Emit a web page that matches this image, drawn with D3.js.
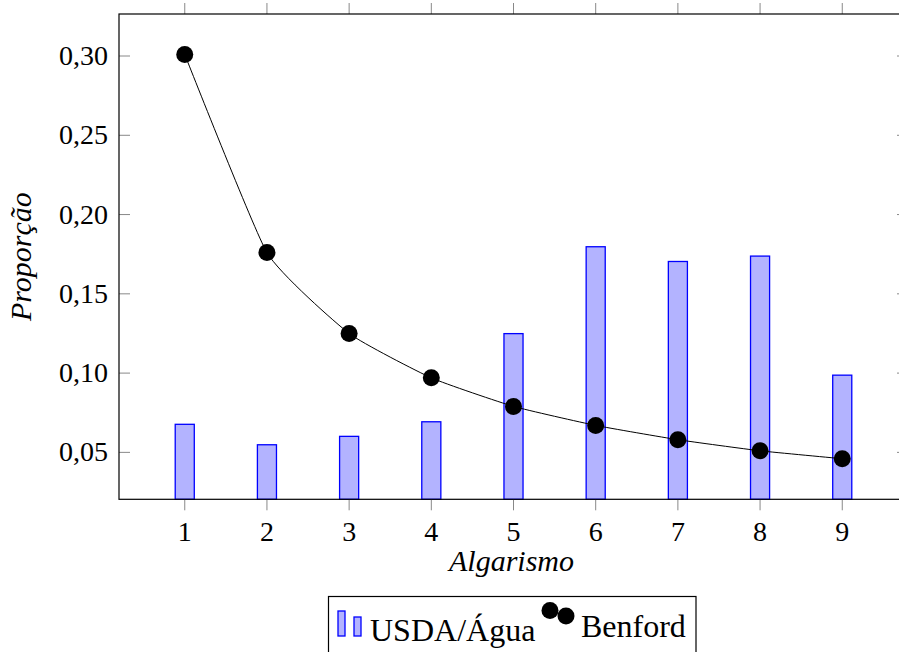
<!DOCTYPE html>
<html>
<head>
<meta charset="utf-8">
<script src="https://cdn.jsdelivr.net/npm/d3@7"></script>
<style>
  body { margin: 0; background: #fff; }
</style>
</head>
<body>
<script>
// data
var digits = [1, 2, 3, 4, 5, 6, 7, 8, 9];
var usdaValues = [0.0677, 0.0548, 0.0601, 0.0693, 0.1249, 0.1797, 0.1704, 0.1738, 0.0987];
var benfordValues = [0.301, 0.176, 0.125, 0.097, 0.079, 0.067, 0.058, 0.051, 0.046];
var yTicks = [0.05, 0.10, 0.15, 0.20, 0.25, 0.30];
var seriesNames = ['USDA/Água', 'Benford'];

var width = 899,
    height = 652;

var pLeft = 119, pRight = 908, pTop = 14, pBottom = 499.3;

var svg = d3.select('body')
  .append('svg')
    .attr('width', width)
    .attr('height', height)
    .attr('font-family', "'Times New Roman', 'Liberation Serif', 'DejaVu Serif', serif")

var x = d3.scaleLinear().domain([0.2, 9.8]).range([pLeft, pRight]);
var y = d3.scaleLinear().domain([0.0204, 0.3265]).range([pBottom, pTop]);

var fmt = function(d){ return d3.format('.2f')(d).replace('.', ','); };
var barW = x(1.116) - x(0.884);

// bars
svg.selectAll('rect.bar')
    .data(digits).enter()
  .append('rect')
    .attr('class', 'bar')
    .attr('x', function(d){ return x(d) - barW/2; })
    .attr('width', barW)
    .attr('y', function(d, i){ return y(usdaValues[i]); })
    .attr('height', function(d, i){ return pBottom - y(usdaValues[i]); })
    .attr('fill', '#b3b3ff')
    .attr('stroke', '#0000ff')
    .attr('stroke-width', 1.3)

// benford line
var line = d3.line()
    .x(function(d, i){ return x(digits[i]); })
    .y(function(d){ return y(d); })
    .curve(d3.curveCardinal.tension(0.55))

svg.append('path')
    .datum(benfordValues)
    .attr('d', line)
    .attr('fill', 'none')
    .attr('stroke', '#000')
    .attr('stroke-width', 1)

svg.selectAll('circle.pt')
    .data(benfordValues).enter()
  .append('circle')
    .attr('class', 'pt')
    .attr('cx', function(d, i){ return x(digits[i]); })
    .attr('cy', function(d){ return y(d); })
    .attr('r', 8.5)
    .attr('fill', '#000')

// ticks
var tickColor = '#888';
svg.selectAll('line.xb')
    .data(digits).enter()
  .append('line')
    .attr('x1', function(d){ return x(d); })
    .attr('x2', function(d){ return x(d); })
    .attr('y1', pBottom)
    .attr('y2', pBottom + 11)
    .attr('stroke', tickColor)
svg.selectAll('line.xt')
    .data(digits).enter()
  .append('line')
    .attr('x1', function(d){ return x(d); })
    .attr('x2', function(d){ return x(d); })
    .attr('y1', pTop)
    .attr('y2', pTop - 11)
    .attr('stroke', tickColor)
svg.selectAll('line.yl')
    .data(yTicks).enter()
  .append('line')
    .attr('x1', pLeft)
    .attr('x2', pLeft + 11)
    .attr('y1', function(d){ return y(d); })
    .attr('y2', function(d){ return y(d); })
    .attr('stroke', tickColor)
svg.selectAll('line.yr')
    .data(yTicks).enter()
  .append('line')
    .attr('x1', pRight)
    .attr('x2', pRight - 11)
    .attr('y1', function(d){ return y(d); })
    .attr('y2', function(d){ return y(d); })
    .attr('stroke', tickColor)

// frame
svg.append('rect')
    .attr('x', pLeft)
    .attr('y', pTop)
    .attr('width', pRight - pLeft)
    .attr('height', pBottom - pTop)
    .attr('fill', 'none')
    .attr('stroke', '#000')
    .attr('stroke-width', 1.2)

// tick labels
svg.selectAll('text.xl')
    .data(digits).enter()
  .append('text')
    .attr('x', function(d){ return x(d); })
    .attr('y', 541)
    .attr('text-anchor', 'middle')
    .attr('font-size', 28)
    .text(function(d){ return d; })

svg.selectAll('text.yl')
    .data(yTicks).enter()
  .append('text')
    .attr('x', 108)
    .attr('y', function(d){ return y(d) + 9; })
    .attr('text-anchor', 'end')
    .attr('font-size', 28)
    .text(fmt)

// axis titles
svg.append('text')
    .attr('x', (pLeft + pRight) / 2 - 2)
    .attr('y', 571)
    .attr('text-anchor', 'middle')
    .attr('font-size', 30)
    .attr('font-style', 'italic')
    .text('Algarismo')

svg.append('text')
    .attr('transform', 'translate(31,' + ((pTop + pBottom) / 2) + ') rotate(-90)')
    .attr('text-anchor', 'middle')
    .attr('font-size', 30)
    .attr('font-style', 'italic')
    .text('Proporção')

// legend
var lg = svg.append('g');
lg.append('rect')
    .attr('x', 328.5)
    .attr('y', 596.5)
    .attr('width', 367.5)
    .attr('height', 70)
    .attr('fill', '#fff')
    .attr('stroke', '#000')
    .attr('stroke-width', 1.2)

lg.append('rect')
    .attr('x', 338).attr('y', 611).attr('width', 7).attr('height', 25)
    .attr('fill', '#b3b3ff').attr('stroke', '#0000ff').attr('stroke-width', 1.3)
lg.append('rect')
    .attr('x', 354).attr('y', 617).attr('width', 7).attr('height', 19)
    .attr('fill', '#b3b3ff').attr('stroke', '#0000ff').attr('stroke-width', 1.3)
lg.append('text')
    .attr('x', 370)
    .attr('y', 641)
    .attr('font-size', 32)
    .text(seriesNames[0])

lg.append('circle').attr('cx', 550).attr('cy', 610.5).attr('r', 8.5).attr('fill', '#000')
lg.append('circle').attr('cx', 566).attr('cy', 616).attr('r', 8.5).attr('fill', '#000')
lg.append('text')
    .attr('x', 581)
    .attr('y', 637)
    .attr('font-size', 32)
    .text(seriesNames[1])
</script>
</body>
</html>
